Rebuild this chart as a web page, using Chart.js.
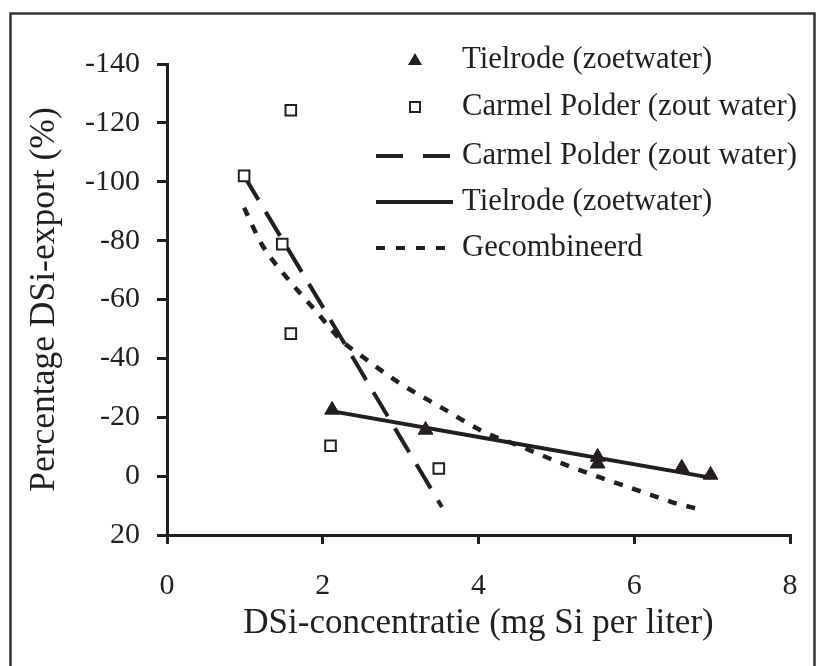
<!DOCTYPE html>
<html>
<head>
<meta charset="utf-8">
<script src="https://cdn.jsdelivr.net/npm/chart.js@4/dist/chart.umd.min.js"></script>
<style>
  html, body { margin: 0; padding: 0; background: #ffffff; }
  #wrap { width: 816px; height: 666px; position: relative; }
  canvas { display: block; }
</style>
</head>
<body>
<div id="wrap"><canvas id="c" width="816" height="666"></canvas></div>
<script>
// ---- data ----
const xTickValues = [0, 2, 4, 6, 8];
const yTickValues = [-140, -120, -100, -80, -60, -40, -20, 0, 20];

const tielrodeX = [2.12, 3.32, 5.53, 5.53, 6.61, 6.98];
const tielrodeY = [-22.5, -15.7, -6.5, -4.2, -2.8, -0.4];

const carmelX = [0.99, 1.59, 1.48, 1.59, 2.10, 3.49];
const carmelY = [-102, -124.3, -78.8, -48.4, -10.3, -2.6];

const carmelFitX = [0.99, 1.5, 2.0, 2.5, 3.0, 3.53];
const carmelFitY = [-102, -79.5, -57.5, -35.2, -13, 10.5];

const tielrodeFitX = [2.13, 4.0, 6.98];
const tielrodeFitY = [-22, -13.3, 0.5];

const combinedX = [0.99, 1.22, 1.53, 1.93, 2.23, 2.53, 2.98, 3.53, 4.07, 4.49, 5.12, 5.58, 6.15, 6.48, 6.87];
const combinedY = [-91.2, -78.6, -67.7, -55.5, -46.3, -40.2, -31.7, -23.2, -15, -10.6, -3.8, 0.6, 5.8, 8.8, 11.5];

const legendLabels = [
  'Tielrode (zoetwater)',
  'Carmel Polder (zout water)',
  'Carmel Polder (zout water)',
  'Tielrode (zoetwater)',
  'Gecombineerd'
];
const xTitle = 'DSi-concentratie (mg Si per liter)';
const yTitle = 'Percentage DSi-export (%)';

// ---- build ----
const INK = '#231f20';
const FONT = "'Liberation Serif', 'Times New Roman', serif";
const pts = (xs, ys) => xs.map((x, i) => ({ x: x, y: ys[i] }));

const frameAndLegend = {
  id: 'frameAndLegend',
  beforeDraw(chart) {
    const ctx = chart.ctx;
    ctx.save();
    ctx.fillStyle = '#ffffff';
    ctx.fillRect(0, 0, chart.width, chart.height);
    ctx.restore();
  },
  afterDraw(chart) {
    const ctx = chart.ctx;
    ctx.save();
    // outer frame
    ctx.strokeStyle = '#333333';
    ctx.lineWidth = 2.5;
    ctx.strokeRect(10.5, 13.5, 804, 700);

    // legend
    const rows = [60, 107, 156, 202, 248];
    const symX = 415, lineX0 = 376, lineX1 = 453, textX = 462;
    ctx.fillStyle = INK;
    ctx.strokeStyle = INK;
    ctx.beginPath();
    ctx.moveTo(symX, rows[0] - 7);
    ctx.lineTo(symX + 7, rows[0] + 5);
    ctx.lineTo(symX - 7, rows[0] + 5);
    ctx.closePath();
    ctx.fill();
    ctx.lineWidth = 2;
    ctx.fillStyle = '#ffffff';
    ctx.fillRect(symX - 5, rows[1] - 5, 10, 10);
    ctx.strokeRect(symX - 5, rows[1] - 5, 10, 10);
    ctx.lineWidth = 4;
    const drawSample = (y, dash) => {
      ctx.beginPath();
      ctx.setLineDash(dash);
      ctx.moveTo(lineX0, y);
      ctx.lineTo(lineX1, y);
      ctx.stroke();
    };
    drawSample(rows[2], [27, 20]);
    drawSample(rows[3], []);
    drawSample(rows[4], [9, 11]);
    ctx.setLineDash([]);
    ctx.fillStyle = INK;
    ctx.font = '30.7px ' + FONT;
    ctx.textAlign = 'left';
    ctx.textBaseline = 'middle';
    legendLabels.forEach((t, i) => ctx.fillText(t, textX, rows[i]));
    ctx.restore();
  }
};

new Chart(document.getElementById('c'), {
  type: 'scatter',
  data: {
    datasets: [
      {
        label: legendLabels[0],
        data: pts(tielrodeX, tielrodeY),
        pointStyle: 'triangle',
        pointRadius: 8.5,
        pointBackgroundColor: INK,
        pointBorderColor: INK,
        pointBorderWidth: 1
      },
      {
        label: legendLabels[1],
        data: pts(carmelX, carmelY),
        pointStyle: 'rect',
        pointRadius: 7.5,
        pointBackgroundColor: '#ffffff',
        pointBorderColor: INK,
        pointBorderWidth: 2
      },
      {
        label: legendLabels[2],
        data: pts(carmelFitX, carmelFitY),
        showLine: true,
        pointRadius: 0,
        borderColor: INK,
        borderWidth: 4,
        borderDash: [28, 14],
        fill: false
      },
      {
        label: legendLabels[3],
        data: pts(tielrodeFitX, tielrodeFitY),
        showLine: true,
        pointRadius: 0,
        borderColor: INK,
        borderWidth: 4,
        fill: false
      },
      {
        label: legendLabels[4],
        data: pts(combinedX, combinedY),
        showLine: true,
        pointRadius: 0,
        borderColor: INK,
        borderWidth: 4.5,
        borderDash: [9, 10],
        cubicInterpolationMode: 'monotone',
        fill: false
      }
    ]
  },
  options: {
    responsive: false,
    animation: false,
    devicePixelRatio: 1,
    layout: { padding: { top: 64, right: 26, left: 0, bottom: 0 } },
    plugins: {
      legend: { display: false },
      tooltip: { enabled: false }
    },
    scales: {
      x: {
        type: 'linear',
        min: 0,
        max: 8,
        afterFit(scale) { scale.height = 131; },
        afterBuildTicks(scale) { scale.ticks = xTickValues.map(v => ({ value: v })); },
        ticks: {
          color: INK,
          font: { family: FONT, size: 30, lineHeight: 1.6 },
          padding: 18,
          callback: v => String(v)
        },
        grid: {
          drawOnChartArea: false,
          drawTicks: true,
          tickLength: 9,
          tickWidth: 3,
          tickColor: INK,
          color: INK,
          lineWidth: 3
        },
        border: { display: true, color: INK, width: 3 },
        title: {
          display: true,
          text: xTitle,
          color: INK,
          font: { family: FONT, size: 35 },
          padding: { top: 0, bottom: 21 }
        }
      },
      y: {
        type: 'linear',
        reverse: true,
        min: -140,
        max: 20,
        afterFit(scale) { scale.width = 167; },
        afterBuildTicks(scale) { scale.ticks = yTickValues.map(v => ({ value: v })); },
        ticks: {
          color: INK,
          font: { family: FONT, size: 30 },
          padding: 17,
          callback: v => String(v)
        },
        grid: {
          drawOnChartArea: false,
          drawTicks: true,
          tickLength: 10,
          tickWidth: 3,
          tickColor: INK,
          color: INK,
          lineWidth: 3
        },
        border: { display: true, color: INK, width: 3 },
        title: {
          display: true,
          text: yTitle,
          color: INK,
          font: { family: FONT, size: 35.5 },
          padding: { top: 23, bottom: 0 }
        }
      }
    }
  },
  plugins: [frameAndLegend]
});
</script>
</body>
</html>
